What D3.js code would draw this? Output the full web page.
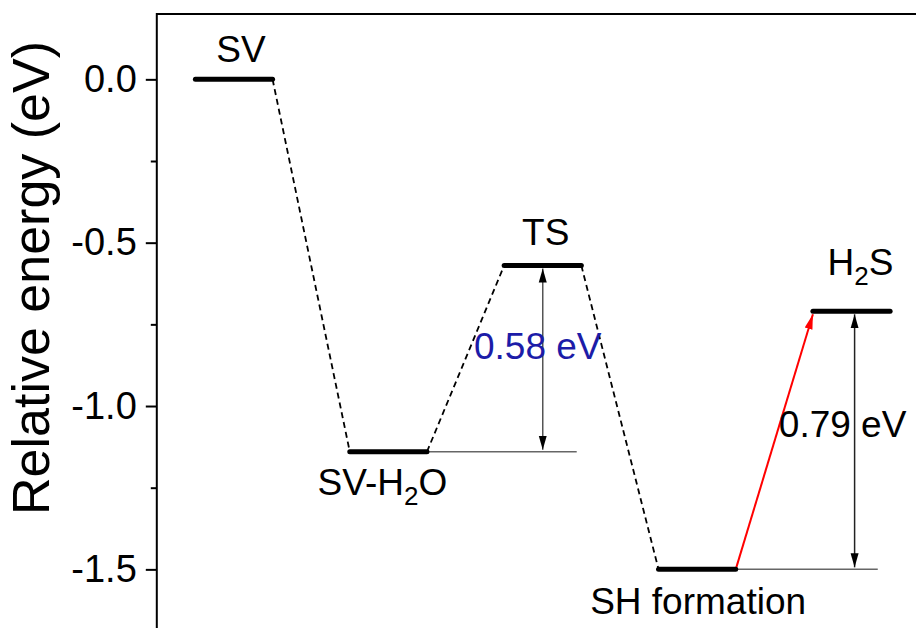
<!DOCTYPE html>
<html>
<head>
<meta charset="utf-8">
<script src="https://cdn.jsdelivr.net/npm/d3@7"></script>
<style>
  body { margin: 0; background: #fff; }
  svg { display: block; font-family: Arial, "Liberation Sans", sans-serif; }
</style>
</head>
<body>
<div id="container"></div>
<script>
// energy levels
const states = ["SV", "SV-H2O", "TS", "SH formation", "H2S"];
const energies = [0.0, -1.14, -0.57, -1.50, -0.71];

// tick values on the y axis
const yTicks = [0.0, -0.5, -1.0, -1.5];
const yMinorTicks = [-0.25, -0.75, -1.25];

// barrier annotations: [lower state, upper state]
const barrierPairs = [[1, 2], [3, 4]];
const barrierLabels = ["0.58 eV", "0.79 eV"];

let w = 916;
let h = 628;

let viz = d3.select("#container")
    .append("svg")
    .attr("width", w)
    .attr("height", h);

// x: one slot per state, index 1..5
let xScale = d3.scaleLinear()
    .domain([0.5, 5.5])
    .range([156.8, 928.7]);

// y: relative energy
let yScale = d3.scaleLinear()
    .domain([0.2, -1.7])
    .range([14, 634.7]);

let halfW = 0.25;

// arrow markers
let defs = viz.append("defs");
defs.append("marker")
    .attr("id", "head")
    .attr("markerUnits", "userSpaceOnUse")
    .attr("viewBox", "0 -5 14 10")
    .attr("refX", 14).attr("refY", 0)
    .attr("markerWidth", 14).attr("markerHeight", 10)
    .attr("orient", "auto-start-reverse")
    .append("path")
    .attr("d", "M0,-4L14,0L0,4Z")
    .attr("fill", "#000");
defs.append("marker")
    .attr("id", "redhead")
    .attr("markerUnits", "userSpaceOnUse")
    .attr("viewBox", "0 -5 15 10")
    .attr("refX", 15).attr("refY", 0)
    .attr("markerWidth", 15).attr("markerHeight", 10)
    .attr("orient", "auto")
    .append("path")
    .attr("d", "M0,-4L15,0L0,4Z")
    .attr("fill", "#ff0000");

// frame (bottom/right fall outside the window)
viz.append("rect")
    .attr("x", xScale(0.5))
    .attr("y", yScale(0.2))
    .attr("width", xScale(5.5) - xScale(0.5))
    .attr("height", yScale(-1.7) - yScale(0.2))
    .attr("fill", "none")
    .attr("stroke", "#000")
    .attr("stroke-width", 2);

// y axis, major ticks
let yAxis = d3.axisLeft(yScale)
    .tickValues(yTicks)
    .tickFormat(d => d.toFixed(1))
    .tickSize(11)
    .tickPadding(9);
let yAxisGroup = viz.append("g")
    .attr("transform", `translate(${xScale(0.5)},0)`)
    .call(yAxis);
yAxisGroup.select(".domain").remove();
yAxisGroup.selectAll("line").attr("stroke-width", 2);
yAxisGroup.selectAll("text")
    .attr("font-size", 38)
    .attr("font-family", "Arial, 'Liberation Sans', sans-serif")
    .attr("fill", "#000");

// minor ticks
let yMinor = d3.axisLeft(yScale)
    .tickValues(yMinorTicks)
    .tickFormat("")
    .tickSize(6);
let yMinorGroup = viz.append("g")
    .attr("transform", `translate(${xScale(0.5)},0)`)
    .call(yMinor);
yMinorGroup.select(".domain").remove();
yMinorGroup.selectAll("line").attr("stroke-width", 2);

// axis title
viz.append("text")
    .attr("transform", `translate(49,278) rotate(-90)`)
    .attr("text-anchor", "middle")
    .attr("font-size", 52)
    .text("Relative energy (eV)");

// thin reference lines from lower level under the barrier arrow
let refEnds = [3.22, 5.17];
let arrowAt = [3.0, 5.02];
barrierPairs.forEach(([lo, hi], k) => {
    viz.append("line")
        .attr("x1", xScale(lo + 1 + halfW))
        .attr("x2", xScale(refEnds[k]))
        .attr("y1", yScale(energies[lo]))
        .attr("y2", yScale(energies[lo]))
        .attr("stroke", "#666")
        .attr("stroke-width", 1.5);
});

// dashed connectors between consecutive levels (last step is the red arrow)
let pairs = d3.pairs(d3.range(states.length));
pairs.slice(0, 3).forEach(([a, b]) => {
    viz.append("line")
        .attr("x1", xScale(a + 1 + halfW))
        .attr("y1", yScale(energies[a]))
        .attr("x2", xScale(b + 1 - halfW))
        .attr("y2", yScale(energies[b]))
        .attr("stroke", "#000")
        .attr("stroke-width", 1.8)
        .attr("stroke-dasharray", "6,4");
});

// red arrow SH formation -> H2S
viz.append("line")
    .attr("x1", xScale(4 + halfW))
    .attr("y1", yScale(energies[3]))
    .attr("x2", xScale(5 - halfW))
    .attr("y2", yScale(energies[4]) + 3)
    .attr("stroke", "#ff0000")
    .attr("stroke-width", 2)
    .attr("marker-end", "url(#redhead)");

// levels
viz.selectAll(".level")
    .data(energies)
    .enter()
    .append("line")
    .classed("level", true)
    .attr("x1", (d, i) => xScale(i + 1 - halfW))
    .attr("x2", (d, i) => xScale(i + 1 + halfW))
    .attr("y1", d => yScale(d))
    .attr("y2", d => yScale(d))
    .attr("stroke", "#000")
    .attr("stroke-width", 5)
    .attr("stroke-linecap", "round");

// double arrows for the barriers
let labelColors = ["#1c1ca8", "#000"];
barrierPairs.forEach(([lo, hi], k) => {
    let xa = xScale(arrowAt[k]);
    let y1 = yScale(energies[lo]) - 2;
    let y2 = yScale(energies[hi]) + 3;
    viz.append("line")
        .attr("x1", xa).attr("x2", xa)
        .attr("y1", y1).attr("y2", y2)
        .attr("stroke", k === 0 ? "#555" : "#222")
        .attr("stroke-width", 1.5)
        .attr("marker-start", "url(#head)")
        .attr("marker-end", "url(#head)");
    viz.append("text")
        .attr("x", xa - (k === 0 ? 5 : 12))
        .attr("y", (y1 + y2) / 2 + 13 - (k === 0 ? 13 : 17))
        .attr("text-anchor", "middle")
        .attr("font-size", 37)
        .attr("fill", labelColors[k])
        .text(barrierLabels[k]);
});

// state labels, with subscript digits
let labelDx = [7, -6, 3, 1, 9];
let labelDy = [-17, 43, -21, 45, -36];
states.forEach((s, i) => {
    let t = viz.append("text")
        .attr("x", xScale(i + 1) + labelDx[i])
        .attr("y", yScale(energies[i]) + labelDy[i])
        .attr("text-anchor", "middle")
        .attr("font-size", 37);
    s.split(/(\d)/).filter(p => p !== "").forEach(p => {
        if (/\d/.test(p)) {
            t.append("tspan").attr("font-size", 26).attr("dy", 10).text(p);
        } else {
            let sp = t.append("tspan").text(p);
            if (t.selectAll("tspan").size() > 1) sp.attr("dy", -10);
        }
    });
});
</script>
</body>
</html>
